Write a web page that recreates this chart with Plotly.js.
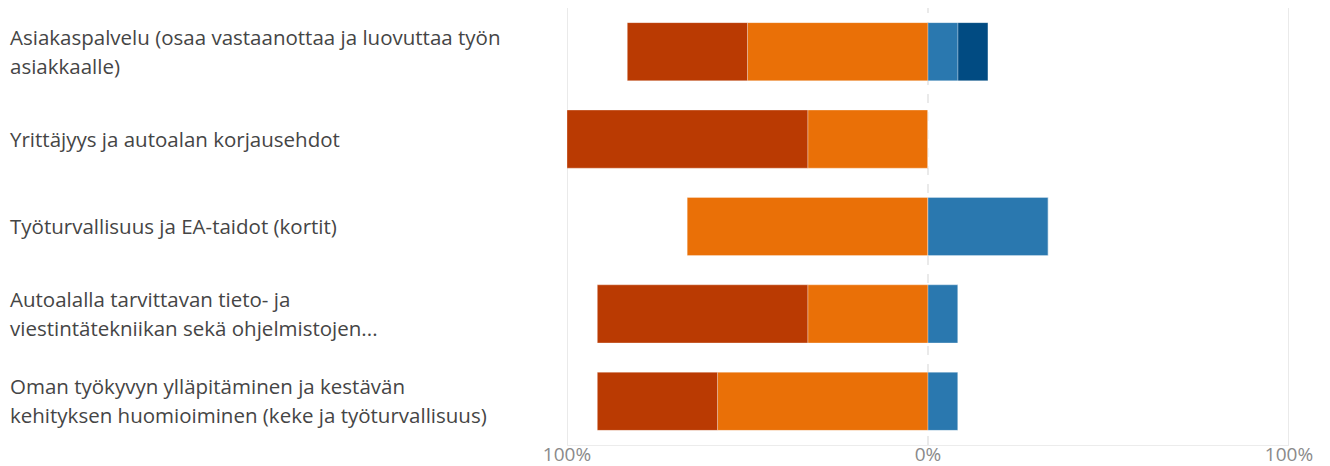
<!DOCTYPE html>
<html>
<head>
<meta charset="utf-8">
<script src="https://cdn.plot.ly/plotly-3.0.1.min.js"></script>
<style>html,body{margin:0;padding:0;background:#fff;}#chart{width:1330px;height:466px;}</style>
</head>
<body>
<div id="chart"></div>
<script>
// Categories (top to bottom) and their displayed label lines
const categories = [
  "Asiakaspalvelu",
  "Yrittäjyys",
  "Työturvallisuus",
  "Autoalalla",
  "Oman työkyvyn"
];
const labelLines = [
  ["Asiakaspalvelu (osaa vastaanottaa ja luovuttaa työn", "asiakkaalle)"],
  ["Yrittäjyys ja autoalan korjausehdot"],
  ["Työturvallisuus ja EA-taidot (kortit)"],
  ["Autoalalla tarvittavan tieto- ja", "viestintätekniikan sekä ohjelmistojen..."],
  ["Oman työkyvyn ylläpitäminen ja kestävän", "kehityksen huomioiminen (keke ja työturvallisuus)"]
];
// Percent shares (negative side: dark red, orange; positive side: blue, dark blue)
const darkRed  = [33.3, 66.7, 0, 58.3, 33.3];
const orange   = [50.0, 33.3, 66.7, 33.3, 58.3];
const blue     = [8.3, 0, 33.3, 8.3, 8.3];
const darkBlue = [8.3, 0, 0, 0, 0];
const tickVals = [-100, 0, 100];
const tickText = ["100%", "0%", "100%"];

const outline = {color: "rgba(255,255,255,0.3)", width: 1};
function tr(vals, color, sign, name) {
  return {
    type: "bar", orientation: "h", name: name,
    y: categories, x: vals.map(v => sign * v),
    marker: {color: color, line: outline},
    hoverinfo: "x+y"
  };
}
const data = [
  tr(orange, "#EA7007", -1, "orange"),
  tr(darkRed, "#BA3A02", -1, "darkred"),
  tr(blue, "#2A78AF", 1, "blue"),
  tr(darkBlue, "#014B82", 1, "darkblue")
];

const plotW = 1330 - 567 - 41;
const annotations = [];
labelLines.forEach((lines, i) => {
  const n = lines.length;
  lines.forEach((t, j) => {
    const off = (j - (n - 1) / 2) * 29 - 0.5;
    annotations.push({
      xref: "paper", yref: "y", x: -(567 - 8) / plotW, y: categories[i],
      xanchor: "left", yanchor: "middle", text: t, showarrow: false,
      yshift: -off,
      font: {family: "Open Sans, Noto Sans, sans-serif", size: 20.5, color: "#454545"}
    });
  });
});

const shapes = [
  {type: "line", xref: "x", yref: "paper", x0: -100, x1: -100, y0: 0, y1: 1, line: {color: "#e3e3e3", width: 1.5}, layer: "below"},
  {type: "line", xref: "x", yref: "paper", x0: 100, x1: 100, y0: 0, y1: 1, line: {color: "#e3e3e3", width: 1.5}, layer: "below"},
  {type: "line", xref: "x", yref: "paper", x0: 0, x1: 0, y0: 0, y1: 1, line: {color: "#e3e3e3", width: 1.5, dash: "dash"}, layer: "below"}
];

const layout = {
  width: 1330, height: 466,
  margin: {l: 567, r: 41, t: 8, b: 21, pad: 0},
  paper_bgcolor: "#fff", plot_bgcolor: "#fff",
  barmode: "relative", bargap: 0.335,
  showlegend: false,
  xaxis: {
    range: [-100, 100], tickvals: tickVals, ticktext: tickText,
    showgrid: false, zeroline: false, showline: true, linecolor: "#ececec", linewidth: 1,
    ticks: "", ticklen: 0, ticklabelstandoff: -8,
    tickfont: {family: "Open Sans, Noto Sans, sans-serif", size: 19, color: "#8a8a8a"},
    fixedrange: true
  },
  yaxis: {
    categoryorder: "array", categoryarray: categories, autorange: "reversed",
    showticklabels: false, showgrid: false, zeroline: false, showline: false, ticks: "",
    fixedrange: true
  },
  annotations: annotations,
  shapes: shapes
};
Plotly.newPlot("chart", data, layout, {displayModeBar: false, staticPlot: true});
</script>
</body>
</html>
